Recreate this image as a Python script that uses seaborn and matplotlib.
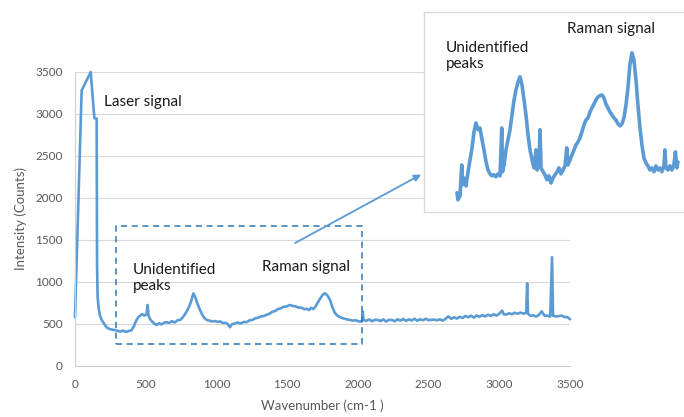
import matplotlib
matplotlib.use("Agg")
import matplotlib.pyplot as plt
import seaborn as sns
from matplotlib.patches import Rectangle

# Full spectrum (Raman shift in cm-1, detector counts)
wavenumber = [
    0, 47, 111, 137, 153, 156, 160, 168, 177, 190, 205, 224, 245, 265, 283,
    300, 320, 340, 360, 380, 400, 415, 430, 445, 460, 475, 490, 505, 514, 520,
    530, 545, 560, 577, 595, 610, 630, 648, 665, 685, 705, 725, 743, 760, 775,
    790, 805, 820, 837, 850, 865, 884, 900, 915, 931, 950, 970, 990, 1010, 1025,
    1045, 1065, 1080, 1096, 1110, 1130, 1150, 1170, 1195, 1214, 1235, 1255, 1275,
    1295, 1315, 1335, 1356, 1375, 1395, 1415, 1435, 1455, 1475, 1495, 1520, 1540,
    1560, 1580, 1600, 1620, 1638, 1655, 1670, 1685, 1700, 1721, 1740, 1755, 1768,
    1785, 1803, 1820, 1835, 1850, 1870, 1890, 1910, 1930, 1945, 1965, 1985, 2000,
    2015, 2030, 2035, 2040, 2060, 2080, 2100, 2120, 2140, 2160, 2180, 2200, 2220,
    2240, 2260, 2280, 2300, 2320, 2340, 2360, 2380, 2400, 2420, 2440, 2460, 2480,
    2500, 2520, 2540, 2560, 2580, 2600, 2620, 2640, 2660, 2680, 2700, 2720, 2740,
    2760, 2780, 2800, 2820, 2840, 2860, 2880, 2900, 2920, 2940, 2960, 2980, 3000,
    3020, 3030, 3050, 3070, 3090, 3110, 3130, 3150, 3170, 3190, 3197, 3203, 3220,
    3240, 3260, 3280, 3300, 3320, 3340, 3360, 3373, 3380, 3400, 3420, 3440, 3460,
    3480, 3500,
]
counts = [
    580, 3280, 3500, 2950, 2945, 1200, 820, 680, 600, 545, 505, 460, 440, 432, 428,
    420, 410, 422, 405, 418, 425, 470, 530, 575, 598, 618, 600, 615, 726, 600,
    560, 530, 505, 488, 508, 495, 515, 522, 512, 534, 518, 545, 548, 575, 610,
    650, 700, 765, 865, 820, 745, 667, 610, 570, 548, 540, 530, 535, 525, 532,
    512, 515, 498, 462, 498, 505, 518, 506, 525, 522, 545, 548, 568,
    575, 590, 595, 610, 622, 645, 655, 678, 686, 705, 708, 726, 715,
    710, 695, 695, 678, 680, 665, 692, 678, 708, 766, 820, 855, 865,
    840, 786, 700, 640, 607, 585, 570, 560, 552, 548, 540, 545, 535,
    528, 540, 647, 548, 538, 555, 532, 550, 548, 535, 555, 530, 550,
    548, 532, 556, 540, 560, 538, 555, 542, 562, 540, 556, 545, 562,
    545, 550, 552, 544, 556, 540, 562, 590, 562, 580, 565, 586, 572,
    595, 580, 600, 576, 602, 586, 606, 590, 610, 596, 616, 600, 622,
    660, 618, 612, 628, 616, 634, 622, 636, 624, 632, 985, 622, 598,
    604, 588, 608, 650, 598, 600, 588, 1295, 598, 590, 594, 600, 582,
    584, 556,
]

# Close-up of the 300-2150 cm-1 window
zoom_wavenumber = [
    322, 330, 347, 361, 368, 380, 396, 413, 429, 446, 462, 478, 495, 511, 528,
    544, 561, 577, 593, 610, 626, 643, 659, 676, 690, 696, 709, 725, 741, 758,
    774, 791, 807, 824, 840, 856, 873, 889, 906, 922, 939, 955, 971, 980, 996,
    1004, 1013, 1029, 1045, 1062, 1078, 1095, 1111, 1128, 1144, 1160, 1177, 1193,
    1210, 1224, 1234, 1251, 1267, 1284, 1300, 1317, 1333, 1349, 1366, 1382, 1399,
    1415, 1431, 1448, 1464, 1481, 1497, 1513, 1530, 1546, 1563, 1579, 1596, 1612,
    1628, 1645, 1661, 1678, 1694, 1711, 1727, 1743, 1760, 1776, 1793, 1809, 1826,
    1842, 1858, 1875, 1891, 1908, 1924, 1941, 1957, 1974, 1990, 2006, 2023, 2031,
    2039, 2056, 2072, 2088, 2105, 2117, 2129, 2138,
]
zoom_counts = [
    424, 400, 414, 518, 451, 474, 447, 495, 535, 576, 630, 660, 637, 643, 603,
    569, 528, 501, 488, 481, 485, 478, 488, 481, 643, 495, 518, 569, 603, 637,
    687, 738, 772, 799, 816, 789, 738, 687, 620, 569, 535, 508, 569, 501, 518,
    637, 508, 495, 485, 468, 481, 457, 474, 485, 495, 508, 488, 501,
    515, 576, 518, 535, 552, 569, 586, 596, 610, 630, 654, 670, 677,
    697, 711, 724, 738, 748, 752, 755, 745, 724, 711, 697, 687, 677,
    670, 657, 650, 657, 677, 721, 779, 856, 897, 873, 806, 721, 643,
    586, 542, 525, 515, 501, 508, 495, 515, 501, 508, 495, 515, 569,
    508, 501, 515, 501, 518, 562, 508, 528,
]

x_ticks = [0, 500, 1000, 1500, 2000, 2500, 3000, 3500]
y_ticks = [0, 500, 1000, 1500, 2000, 2500, 3000, 3500]

sns.set_theme(style="white")
plt.rcParams["font.family"] = ["Lato", "DejaVu Sans"]

LINE = "#5B9BD5"
BOX = "#2E75B6"
GRID = "#D9D9D9"
LABEL = "#595959"

W, H = 684, 417
fig = plt.figure(figsize=(W / 100, H / 100), dpi=100)

# Main spectrum
ax = fig.add_axes([75 / W, (H - 366) / H, 495 / W, 294 / H])
sns.lineplot(x=wavenumber, y=counts, ax=ax, color=LINE, linewidth=1.9,
             estimator=None, sort=False, clip_on=False)
ax.set_xlim(0, 3500)
ax.set_ylim(0, 3500)
ax.set_xticks(x_ticks)
ax.set_yticks(y_ticks)
ax.grid(axis="y", color=GRID, linewidth=0.8)
ax.grid(axis="x", visible=False)
ax.set_axisbelow(True)
for side in ("top", "right"):
    ax.spines[side].set_visible(False)
for side in ("left", "bottom"):
    ax.spines[side].set_color("#D0D0D0")
    ax.spines[side].set_linewidth(0.8)
ax.tick_params(length=0, labelsize=8.5, labelcolor=LABEL, pad=9)
ax.set_xlabel("Wavenumber (cm-1 )", fontsize=9.5, color=LABEL, labelpad=7)
ax.set_ylabel("Intensity (Counts)", fontsize=9.5, color=LABEL, labelpad=6)

ax.text(205, 3143, "Laser signal", fontsize=11, va="center", ha="left", color="#1a1a1a")
ax.text(410, 1048, "Unidentified\npeaks", fontsize=11, va="center", ha="left", color="#1a1a1a")
ax.text(1320, 1179, "Raman signal", fontsize=11, va="center", ha="left", color="#1a1a1a")

# Dashed frame around the region shown in the close-up
ax.add_patch(Rectangle((290, 262), 2030 - 290, 1667 - 262, fill=False,
                       edgecolor=BOX, linewidth=1.1, linestyle=(0, (4, 3)),
                       clip_on=False, zorder=3))
ax.annotate("", xy=(2447, 2279), xytext=(1556, 1464),
            arrowprops=dict(arrowstyle="-|>", color=LINE, lw=1.3, mutation_scale=10,
                            shrinkA=0, shrinkB=0),
            annotation_clip=False)

# Close-up panel
ax_in = fig.add_axes([424 / W, (H - 212) / H, (690 - 424) / W, 200 / H])
ax_in.set_facecolor("white")
sns.lineplot(x=zoom_wavenumber, y=zoom_counts, ax=ax_in, color=LINE, linewidth=2.6,
             estimator=None, sort=False)
ax_in.set_xlim(51, 2237)
ax_in.set_ylim(359, 1035)
ax_in.set_xticks([])
ax_in.set_yticks([])
ax_in.set_xlabel("")
ax_in.set_ylabel("")
for side in ax_in.spines.values():
    side.set_color(GRID)
    side.set_linewidth(1.0)
ax_in.text(232, 887, "Unidentified\npeaks", fontsize=11, va="center", ha="left", color="#1a1a1a")
ax_in.text(1224, 978, "Raman signal", fontsize=11, va="center", ha="left", color="#1a1a1a")

fig.savefig("out.png", dpi=100)
